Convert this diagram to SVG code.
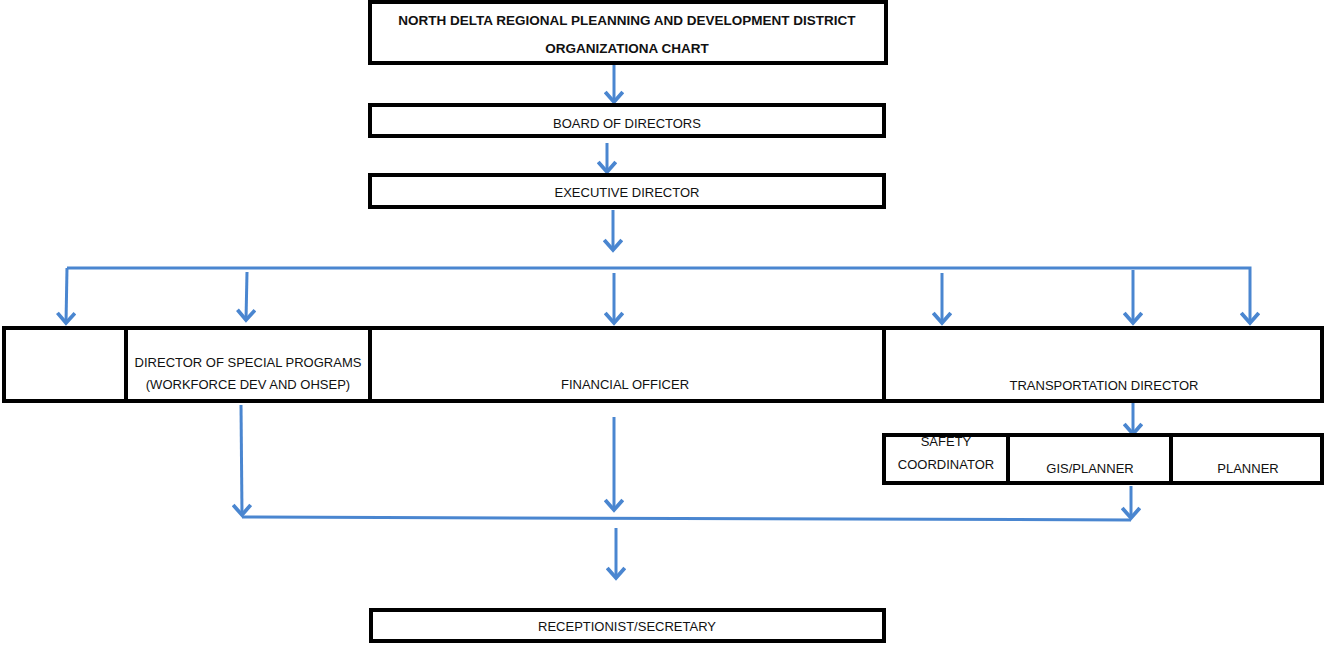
<svg xmlns="http://www.w3.org/2000/svg" width="1326" height="645" viewBox="0 0 1326 645">
<defs>
<style>
.box{fill:#fff;stroke:#000;stroke-width:4}
.div{stroke:#000;stroke-width:4}
.t{font-family:"Liberation Sans",Arial,sans-serif;font-size:13px;fill:#111;text-anchor:middle}
.b{font-weight:bold;font-size:13.5px}
.c{fill:none;stroke:#4a86d0;stroke-width:3}
</style>
<marker id="ah" markerUnits="userSpaceOnUse" markerWidth="20" markerHeight="20" refX="13" refY="8" orient="auto" viewBox="0 0 16 16">
<path d="M5,1 L13,8 L5,15" fill="none" stroke="#4a86d0" stroke-width="3" stroke-linejoin="miter"/>
</marker>
</defs>
<rect width="1326" height="645" fill="#fff"/>
<g id="connectors">
<line class="c" x1="614" y1="64" x2="614" y2="102" marker-end="url(#ah)"/>
<line class="c" x1="607" y1="143" x2="607" y2="172" marker-end="url(#ah)"/>
<line class="c" x1="613" y1="210" x2="613" y2="250" marker-end="url(#ah)"/>
<path class="c" d="M67,268 L1250,268 L1250,323" marker-end="url(#ah)"/>
<line class="c" x1="67" y1="268" x2="66" y2="323" marker-end="url(#ah)"/>
<line class="c" x1="247" y1="272" x2="246" y2="320" marker-end="url(#ah)"/>
<line class="c" x1="614" y1="273" x2="614" y2="323" marker-end="url(#ah)"/>
<line class="c" x1="942" y1="273" x2="942" y2="323" marker-end="url(#ah)"/>
<line class="c" x1="1133" y1="270" x2="1133" y2="323" marker-end="url(#ah)"/>
<line class="c" x1="1133" y1="402" x2="1133" y2="434" marker-end="url(#ah)"/>
<line class="c" x1="241" y1="405" x2="242" y2="515" marker-end="url(#ah)"/>
<line class="c" x1="614" y1="417" x2="614" y2="510" marker-end="url(#ah)"/>
<line class="c" x1="1131" y1="486" x2="1131" y2="518" marker-end="url(#ah)"/>
<line class="c" x1="242" y1="517" x2="1131" y2="520"/>
<line class="c" x1="616" y1="528" x2="616" y2="578" marker-end="url(#ah)"/>
</g>
<g id="title">
<rect class="box" x="370" y="2" width="516" height="61"/>
<text class="t b" x="627" y="25">NORTH DELTA REGIONAL PLEANNING AND DEVELOPMENT DISTRICT</text>
<text class="t b" x="627" y="53">ORGANIZATIONA CHART</text>
</g>
<g id="board">
<rect class="box" x="370" y="105" width="514" height="31"/>
<text class="t" x="627" y="128">BOARD OF DIRECTORS</text>
</g>
<g id="executive">
<rect class="box" x="370" y="175" width="514" height="32"/>
<text class="t" x="627" y="197">EXECUTIVE DIRECTOR</text>
</g>
<g id="row">
<rect class="box" x="4" y="328" width="1318" height="73"/>
<line class="div" x1="126" y1="328" x2="126" y2="401"/>
<line class="div" x1="370" y1="328" x2="370" y2="401"/>
<line class="div" x1="884" y1="328" x2="884" y2="401"/>
</g>
<g id="blank"></g>
<g id="special">
<text class="t" x="248" y="367">DIRECTOR OF SPECIAL PROGRAMS</text>
<text class="t" x="248" y="389">(WORKFORCE DEV AND OHSEP)</text>
</g>
<g id="financial">
<text class="t" x="625" y="389">FINANCIAL OFFICER</text>
</g>
<g id="transportation">
<text class="t" x="1104" y="390">TRANSPORTATION DIRECTOR</text>
</g>
<g id="subrow">
<rect class="box" x="884" y="435" width="438" height="48"/>
<line class="div" x1="1008" y1="435" x2="1008" y2="483"/>
<line class="div" x1="1171" y1="435" x2="1171" y2="483"/>
</g>
<g id="safety">
<text class="t" x="946" y="446">SAFETY</text>
<text class="t" x="946" y="469">COORDINATOR</text>
</g>
<g id="gis">
<text class="t" x="1090" y="473">GIS/PLANNER</text>
</g>
<g id="planner">
<text class="t" x="1248" y="473">PLANNER</text>
</g>
<g id="receptionist">
<rect class="box" x="371" y="610" width="513" height="31"/>
<text class="t" x="627" y="631">RECEPTIONIST/SECRETARY</text>
</g>
</svg>
